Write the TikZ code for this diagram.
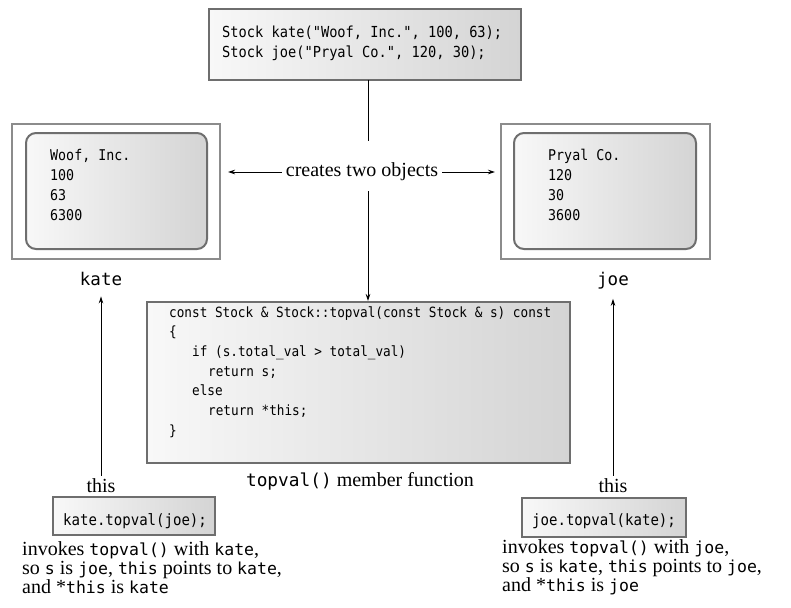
\documentclass[tikz,border=0pt]{standalone}
\usepackage{fontspec}
\setmainfont{Liberation Serif}
\newfontfamily\codefont[FakeStretch=0.9]{DejaVu Sans Mono}
\newfontfamily\monofont{DejaVu Sans Mono}
\usetikzlibrary{arrows.meta}
\definecolor{bordergray}{HTML}{6E6E6E}
\definecolor{outergray}{HTML}{8C8C8C}
\definecolor{gleft}{HTML}{F8F8F8}
\definecolor{gright}{HTML}{D4D4D4}
\newcommand{\mt}[1]{{\monofont\fontsize{16.5}{19}\selectfont #1}}
\tikzset{
  gradbox/.style={draw=bordergray, line width=2pt, left color=gleft, right color=gright, inner sep=0pt, outer sep=0pt},
  outerbox/.style={draw=outergray, line width=2pt, fill=white, inner sep=0pt, outer sep=0pt, minimum width=208pt, minimum height=135pt},
  innerbox/.style={gradbox, rounded corners=10pt, minimum height=116pt},
  codetop/.style={inner sep=0pt, anchor=base west, font=\codefont\fontsize{15.2}{20}\selectfont},
  codemid/.style={inner sep=0pt, anchor=base west, font=\codefont\fontsize{14.1}{20}\selectfont},
  codeobj/.style={inner sep=0pt, anchor=base west, font=\codefont\fontsize{14.8}{20}\selectfont},
  codebot/.style={inner sep=0pt, anchor=base west, font=\codefont\fontsize{15.6}{20}\selectfont},
  serif/.style={inner sep=0pt, font=\fontsize{20}{19}\selectfont},
  label/.style={inner sep=0pt, anchor=base, font=\monofont\fontsize{17.5}{20}\selectfont},
  desc/.style={inner sep=0pt, anchor=base west, font=\fontsize{20}{19}\selectfont},
  arr/.style={-{Stealth[length=7pt,width=4.5pt]}, line width=0.8pt},
  plain/.style={line width=0.8pt}
}
\begin{document}
\begin{tikzpicture}[x=1pt,y=-1pt]
\useasboundingbox (0,0) rectangle (791,607);

% top box
\node[gradbox, minimum width=312pt, minimum height=71pt] (topbox) at (365,44.5) {};
\node[codetop] (tb1) at (222,38) {Stock kate("Woof, Inc.", 100, 63);};
\node[codetop] (tb2) at (222,58) {Stock joe("Pryal Co.", 120, 30);};

% creates two objects
\coordinate (cx) at (368,0);
\node[serif, inner sep=4pt] (creates) at (362,172) {creates two objects};

% left object
\node[outerbox] (lobj) at (116,191.5) {};
\node[innerbox, minimum width=181pt] (linner) at (116.5,191) {};
\node[codeobj] (lo1) at (50,160) {Woof, Inc.};
\node[codeobj] (lo2) at (50,180) {100};
\node[codeobj] (lo3) at (50,200) {63};
\node[codeobj] (lo4) at (50,220) {6300};
\node[label] (kate) at (101,285) {kate};

% right object
\node[outerbox, minimum width=209pt] (robj) at (605.5,191.5) {};
\node[innerbox, minimum width=182pt] (rinner) at (605,191) {};
\node[codeobj] (ro1) at (548,160) {Pryal Co.};
\node[codeobj] (ro2) at (548,180) {120};
\node[codeobj] (ro3) at (548,200) {30};
\node[codeobj] (ro4) at (548,220) {3600};
\node[label] (joe) at (613,285) {joe};

% central box
\node[gradbox, minimum width=423pt, minimum height=161pt] (center) at (358.5,382.5) {};
\node[codemid] (c1) at (169,317) {const Stock \& Stock::topval(const Stock \& s) const};
\node[codemid] (c2) at (169,336.7) {\{};
\node[codemid] (c3) at (192,356.4) {if (s.total\_val > total\_val)};
\node[codemid] (c4) at (208,376.1) {return s;};
\node[codemid] (c5) at (192,395.8) {else};
\node[codemid] (c6) at (208,415.5) {return *this;};
\node[codemid] (c7) at (169,435.2) {\}};
\node[serif, anchor=base] (caption) at (360,486) {\mt{\fontsize{17.8}{20}\selectfont topval()} member function};

% bottom left
\node[serif, anchor=base, inner sep=2pt] (thisl) at (101,492) {this};
\node[gradbox, minimum width=162pt, minimum height=38pt] (callL) at (134,516) {};
\node[codebot] (cl) at (63,525) {kate.topval(joe);};
\node[desc] (dl1) at (22,555) {invokes \mt{topval()} with \mt{kate},};
\node[desc] (dl2) at (22,574) {so \mt{s} is \mt{joe}, \mt{this} points to \mt{kate},};
\node[desc] (dl3) at (22,593) {and *\mt{this} is \mt{kate}};

% bottom right
\node[serif, anchor=base, inner sep=2pt] (thisr) at (613,492) {this};
\node[gradbox, minimum width=164pt, minimum height=39pt] (callR) at (604,517) {};
\node[codebot] (cr) at (532,525) {joe.topval(kate);};
\node[desc] (dr1) at (502,553) {invokes \mt{topval()} with \mt{joe},};
\node[desc] (dr2) at (502,572) {so \mt{s} is \mt{kate}, \mt{this} points to \mt{joe},};
\node[desc] (dr3) at (502,591) {and *\mt{this} is \mt{joe}};

% connectors
\draw[plain] (topbox.south -| cx) -- ([yshift=18pt]creates.north -| cx);
\draw[arr] (creates.west) -- ([xshift=8pt]lobj.east |- creates.west);
\draw[arr] (creates.east) -- ([xshift=-6pt]robj.west |- creates.east);
\draw[arr] ([yshift=-6pt]creates.south -| cx) -- ([yshift=1pt]center.north -| cx);
\draw[arr] (thisl.north) -- ([yshift=-11pt]kate.south);
\draw[arr] (thisr.north) -- ([yshift=-10pt]joe.south);
\end{tikzpicture}
\end{document}
